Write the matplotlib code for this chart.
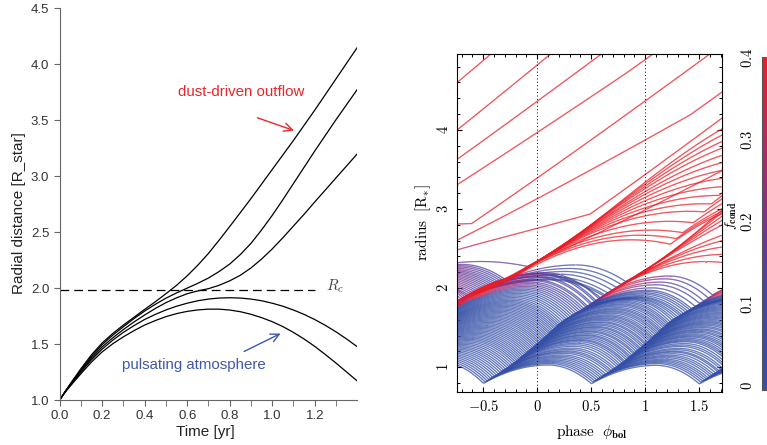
import numpy as np
import matplotlib
matplotlib.use("Agg")
import matplotlib.pyplot as plt
from matplotlib.collections import LineCollection
from matplotlib.colors import LinearSegmentedColormap, Normalize
from matplotlib.cm import ScalarMappable
from matplotlib.ticker import MultipleLocator

plt.rcParams["mathtext.fontset"] = "cm"

# ---------------- left panel: five test trajectories
time_yr = [0.0, 0.025, 0.05, 0.1, 0.15, 0.2, 0.25, 0.3, 0.35, 0.4, 0.45, 0.5, 0.55, 0.6, 0.65,
           0.7, 0.75, 0.8, 0.85, 0.9, 0.95, 1.0, 1.05, 1.1, 1.15, 1.2, 1.25, 1.3, 1.35, 1.4]
r_path_1 = [1.0, 1.075, 1.145, 1.28, 1.405, 1.51, 1.595, 1.67, 1.74, 1.81, 1.878, 1.95, 2.025, 2.11, 2.205,
            2.31, 2.428, 2.55, 2.675, 2.80, 2.93, 3.06, 3.19, 3.32, 3.455, 3.59, 3.73, 3.87, 4.01, 4.15]
r_path_2 = [1.0, 1.073, 1.14, 1.27, 1.39, 1.495, 1.58, 1.655, 1.728, 1.795, 1.855, 1.91, 1.957, 2.00, 2.043,
            2.09, 2.148, 2.215, 2.30, 2.40, 2.52, 2.65, 2.79, 2.935, 3.08, 3.225, 3.365, 3.505, 3.64, 3.775]
r_path_3 = [1.0, 1.071, 1.135, 1.26, 1.375, 1.475, 1.556, 1.63, 1.698, 1.76, 1.818, 1.87, 1.913, 1.95, 1.975,
            1.995, 2.025, 2.065, 2.115, 2.18, 2.26, 2.35, 2.45, 2.555, 2.66, 2.77, 2.877, 2.985, 3.092, 3.20]
r_path_4 = [1.0, 1.07, 1.13, 1.25, 1.36, 1.455, 1.535, 1.605, 1.665, 1.72, 1.765, 1.805, 1.838, 1.865, 1.887,
            1.902, 1.911, 1.914, 1.911, 1.902, 1.887, 1.865, 1.838, 1.804, 1.765, 1.719, 1.667, 1.609, 1.545, 1.476]
r_path_5 = [1.0, 1.068, 1.125, 1.235, 1.34, 1.43, 1.503, 1.565, 1.62, 1.67, 1.71, 1.745, 1.772, 1.792, 1.805,
            1.812, 1.812, 1.804, 1.789, 1.766, 1.736, 1.70, 1.656, 1.604, 1.545, 1.479, 1.406, 1.33, 1.25, 1.17]
r_paths = [r_path_1, r_path_2, r_path_3, r_path_4, r_path_5]
r_cond = 1.98
r_cond_end = 1.2

# ---------------- right panel
# shock front starting at phase -0.5 (and, shifted by whole cycles, the later ones)
shock_phase = np.array([-0.50, -0.35, -0.22, 0.00, 0.21, 0.46, 0.74, 1.00, 1.15, 1.50, 2.00, 2.50, 3.00])
shock_radius = np.array([0.80, 0.93, 1.05, 1.30, 1.56, 1.77, 2.02, 2.23, 2.45, 2.90, 3.65, 4.30, 4.95])
# the earlier shock front, which runs ahead (and its predecessors, shifted by whole cycles)
shock_prev_phase = np.array([-1.50, -1.30, -1.10, -0.90, -0.75, -0.50, -0.25, 0.00, 0.15, 0.50, 1.00, 1.50, 2.00])
shock_prev_radius = np.array([0.80, 1.00, 1.25, 1.55, 1.83, 1.98, 2.14, 2.35, 2.52, 2.95, 3.65, 4.30, 4.95])
# outflowing shells at the left edge (phase -0.75): radius, speed, f_cond
outer_r0 = [4.59, 3.99, 3.62, 3.30, 2.81, 2.60, 2.48, 2.32]
outer_v0 = [1.15, 1.10, 0.98, 0.88, 0.05, 0.70, 0.40, 0.15]
outer_f0 = [0.40, 0.40, 0.40, 0.38, 0.34, 0.32, 0.30, 0.15]
# pulsating shells (radius where a shock hits them)
bound_r_min, bound_r_max, bound_dr = 0.80, 1.75, 0.015
# upper shells: released by the earlier shock (-1), the later one (0) or staying (99)
upper_r_min, upper_r_max, upper_dr = 1.75, 2.12, 0.012
upper_pattern = [-1, 0, 99]
fan_push_1 = (0.5, 1.6)        # dust push of the released shells, weakest to strongest
fan_push_2 = (0.3, 1.8)
fan_release_1 = (2.2, 2.45)    # radius where released shells leave the shock
fan_release_2 = (2.0, 2.25)
dotted_phases = [0, 1]

# model constants for the shell motion
tau_a, kappa_in, kappa_out, u_cap = 0.6, 0.9, 0.75, 1.0
ride_frac, ride_cap, g_esc = 0.95, 0.85, 1.3
G0, Gamma_out, f_max = 6.0, 16.0, 0.4
r_dust, k_grow, k_grow_slow, k_evap = 1.85, 15.0, 2.5, 1.8
phi0, phi1, dt = -0.75, 1.72, 0.0025


def shock_table(k):
    if k >= 0:
        return shock_phase + k, shock_radius
    return shock_prev_phase + (k + 1), shock_prev_radius


def shock_speed(ph, rad, p):
    mid = 0.5 * (ph[1:] + ph[:-1])
    return np.interp(p, mid, np.diff(rad) / np.diff(ph))


def hit_time(k, r):
    ph, rad = shock_table(k)
    return np.interp(r, rad, ph)


def orbit(u, T):
    g_up = u / (tau_a * T)
    g_dn = u * tau_a / ((1 - tau_a) ** 2 * T)
    return g_up, g_dn


def simulate():
    rho_b = np.arange(bound_r_min, bound_r_max - 1e-9, bound_dr)
    rho_u = np.arange(upper_r_min, upper_r_max, upper_dr)
    rho = np.concatenate([rho_b, rho_u])
    n_in = len(rho)
    esc_cycle = np.full(n_in, 99)
    pat = np.array([upper_pattern[i % len(upper_pattern)] for i in range(len(rho_u))])
    pat[(rho_u > 1.95) & (pat == 99)] = -1
    esc_cycle[len(rho_b):] = pat
    push = np.ones(n_in)
    r_rel = np.full(n_in, 9.0)
    for c, p_rng, r_rng in [(-1, fan_push_1, fan_release_1), (0, fan_push_2, fan_release_2)]:
        idx = np.where(esc_cycle == c)[0]
        push[idx] = np.linspace(p_rng[0], p_rng[1], len(idx))
        r_rel[idx] = np.linspace(r_rng[0], r_rng[1], len(idx))

    # state at phase phi0 on the periodic orbits
    r = np.zeros(n_in)
    v = np.zeros(n_in)
    g_up = np.zeros(n_in)
    g_dn = np.zeros(n_in)
    last = np.zeros(n_in, dtype=int)
    for i, rh in enumerate(rho):
        k = 1
        while hit_time(k, rh) > phi0:
            k -= 1
        t_k = hit_time(k, rh)
        T = np.clip(hit_time(k + 1, rh) - t_k, 0.8, 1.45)
        ph, rad = shock_table(k)
        u = kappa_in * min(shock_speed(ph, rad, t_k), u_cap)
        gu, gd = orbit(u, T)
        tau = phi0 - t_k
        if tau < tau_a * T:
            r[i] = rh + u * tau - 0.5 * gu * tau ** 2
            v[i] = u - gu * tau
        else:
            hgt = 0.5 * u * tau_a * T
            r[i] = rh + hgt - 0.5 * gd * (tau - tau_a * T) ** 2
            v[i] = -gd * (tau - tau_a * T)
        g_up[i], g_dn[i] = gu, gd
        last[i] = k
    f = np.where((rho > 1.70) & (v > 0.3), 0.37, np.where(rho > 1.85, 0.2, 0.0))
    esc = last == esc_cycle

    ro = np.array(outer_r0)
    last_o = []
    for r0 in ro:
        k_last = -20
        for k in range(-8, 3):
            if hit_time(k, r0) <= phi0:
                k_last = max(k_last, k)
        last_o.append(k_last)
    no = len(ro)

    r = np.concatenate([r, ro])
    v = np.concatenate([v, outer_v0])
    f = np.concatenate([f, outer_f0])
    g_up = np.concatenate([g_up, np.zeros(no)])
    g_dn = np.concatenate([g_dn, np.zeros(no)])
    last = np.concatenate([last, last_o])
    esc_cycle = np.concatenate([esc_cycle, np.full(no, 99)])
    push = np.concatenate([push, np.ones(no)])
    r_rel = np.concatenate([r_rel, np.full(no, 9.0)])
    free = np.concatenate([np.zeros(n_in, bool), np.ones(no, bool)])
    esc = np.concatenate([esc, np.zeros(no, bool)])

    phases, rr, ff = [phi0], [r.copy()], [f.copy()]
    phase = phi0
    step = 0
    while phase < phi1:
        # speed of the shock each released shell rides on
        ride_v = np.zeros(len(r))
        for c in (-1, 0):
            ph, rad = shock_table(c)
            ride_v[esc_cycle == c] = min(ride_frac * shock_speed(ph, rad, phase), ride_cap)
        riding = esc & (r < r_rel)
        a_bound = -np.where(v > 0, g_up, g_dn)
        a_esc = g_esc * (push * f / f_max * (r_rel / r) ** 2 - 1.0)
        a_free = (-G0 + Gamma_out * f) / r ** 2
        a = np.where(free, a_free, np.where(esc, a_esc, a_bound))
        v = v + a * dt
        v = np.where(riding, ride_v, v)
        r = r + v * dt
        low = r < 0.79
        r[low] = 0.79
        v[low] = 0.0
        phase += dt
        fast = (v > 0.55) & (r > r_dust)
        slow_grow = (esc | free) & (v > 0.3) & ~fast
        evap = ~(esc | free) & ~fast
        df = np.where(fast, k_grow * (f_max - f), 0.0)
        df = df + np.where(slow_grow, k_grow_slow * (f_max - f), 0.0)
        df = df - np.where(evap, k_evap * f, 0.0)
        f = f + df * dt
        for k in range(-5, 3):
            ph, rad = shock_table(k)
            if phase < ph[0] or phase > ph[-1]:
                continue
            hit = (last < k) & (r <= np.interp(phase, ph, rad))
            if not hit.any():
                continue
            vs = shock_speed(ph, rad, phase)
            loose = hit & (free | (esc & (r >= r_rel)))
            v[loose] = np.maximum(v[loose], kappa_out * vs)
            bnd = np.where(hit & ~(free | esc))[0]
            u_in = kappa_in * min(vs, u_cap)
            for i in bnd:
                T = np.clip(hit_time(k + 1, r[i]) - phase, 0.8, 1.45)
                v[i] = max(v[i], u_in)
                g_up[i], g_dn[i] = orbit(u_in, T)
                if esc_cycle[i] == k:
                    esc[i] = True
            last[hit] = k
        step += 1
        if step % 2 == 0:
            phases.append(phase)
            rr.append(r.copy())
            ff.append(f.copy())
    return np.array(phases), np.array(rr), np.array(ff)


cmap = LinearSegmentedColormap.from_list(
    "fcond", [(0.0, "#3450a8"), (0.3, "#4844a3"), (0.5, "#7a3190"),
              (0.72, "#b02868"), (1.0, "#ee1d25")])
norm = Normalize(-0.005, 0.402)

fig = plt.figure(figsize=(7.67, 4.45), dpi=100)

# ---------------- left panel
ax1 = fig.add_axes([0.0778, 0.1011, 0.388, 0.8802])
for rp in r_paths:
    ax1.plot(time_yr, rp, color="black", lw=0.9)
ax1.hlines(r_cond, 0, r_cond_end, color="black", lw=0.9, linestyles=(0, (7, 4)))
ax1.text(1.255, r_cond + 0.04, r"$R_c$", fontsize=11, color="#444444", va="center")
ax1.text(0.856, 3.755, "dust-driven outflow", color="#e8262c", fontsize=10.8,
         family="Liberation Sans", ha="center", va="center")
ax1.text(0.633, 1.313, "pulsating atmosphere", color="#3f57ab", fontsize=10.8,
         family="Liberation Sans", ha="center", va="center")
ax1.annotate("", xy=(1.114, 3.40), xytext=(0.918, 3.53),
             arrowprops=dict(arrowstyle="->", color="#e8262c", lw=1.0, mutation_scale=15))
ax1.annotate("", xy=(1.051, 1.605), xytext=(0.856, 1.423),
             arrowprops=dict(arrowstyle="->", color="#3f57ab", lw=1.0, mutation_scale=15))
ax1.set_xlim(0, 1.4)
ax1.set_ylim(1.0, 4.5)
ax1.set_xticks([0.0, 0.2, 0.4, 0.6, 0.8, 1.0, 1.2])
ax1.set_xticks(np.arange(0.1, 1.35, 0.2), minor=True)
ax1.set_yticks(np.arange(1.0, 4.51, 0.5))
for s in ["top", "right"]:
    ax1.spines[s].set_visible(False)
for s in ["left", "bottom"]:
    ax1.spines[s].set_color("#666666")
ax1.tick_params(which="both", direction="out", length=4, color="#666666",
                labelcolor="#333333", labelsize=9.5)
for lab in ax1.get_xticklabels() + ax1.get_yticklabels():
    lab.set_family("Liberation Sans")
ax1.set_xlabel("Time [yr]", family="Liberation Sans", fontsize=11, color="#222222")
ax1.set_ylabel("Radial distance [R_star]", family="Liberation Sans", fontsize=11, color="#222222")
ax1.xaxis.set_label_coords(0.488, -0.064)
ax1.yaxis.set_label_coords(-0.113, 0.477)

# ---------------- right panel
ax2 = fig.add_axes([0.5954, 0.1191, 0.3459, 0.7596])
phases, rr, ff = simulate()
segs, cols = [], []
for i in range(rr.shape[1]):
    pts = np.column_stack([phases, rr[:, i]])
    segs.append(np.stack([pts[:-1], pts[1:]], axis=1))
    cols.append(0.5 * (ff[:-1, i] + ff[1:, i]))
segs = np.concatenate(segs)
cols = np.concatenate(cols)
order = np.argsort(cols, kind="stable")
lc = LineCollection(segs[order], colors=cmap(norm(cols[order])), linewidths=0.85)
ax2.add_collection(lc)
for p in dotted_phases:
    ax2.axvline(p, color="black", lw=0.7, ls=(0, (1, 2.5)))
ax2.set_xlim(-0.746, 1.71)
ax2.set_ylim(0.687, 4.96)
ax2.set_xticks([-0.5, 0, 0.5, 1, 1.5])
ax2.set_xticklabels([r"$-0.5$", r"$0$", r"$0.5$", r"$1$", r"$1.5$"])
ax2.set_yticks([1, 2, 3, 4])
ax2.set_yticklabels([r"$1$", r"$2$", r"$3$", r"$4$"], rotation=90, va="center")
ax2.xaxis.set_minor_locator(MultipleLocator(0.1))
ax2.yaxis.set_minor_locator(MultipleLocator(0.2))
ax2.tick_params(which="both", direction="in", top=True, right=True, labelsize=10.5)
ax2.tick_params(which="major", length=3.6, width=0.8)
ax2.tick_params(which="minor", length=1.9, width=0.7)
ax2.tick_params(axis="x", pad=5)
ax2.tick_params(axis="y", pad=4)
ax2.set_xlabel(r"$\mathrm{phase}\ \ \phi_{\mathbf{bol}}$", fontsize=11)
ax2.set_ylabel(r"$\mathrm{radius}\ \ [\mathrm{R}_{*}]$", fontsize=11)
ax2.xaxis.set_label_coords(0.509, -0.092)
ax2.yaxis.set_label_coords(-0.089, 0.5)

# colour bar, cut by the right edge of the figure
cax = fig.add_axes([762 / 767, 0.1236, 0.03, 0.749])
cb = fig.colorbar(ScalarMappable(norm=norm, cmap=cmap), cax=cax)
cb.outline.set_edgecolor("#555555")
cax.yaxis.set_ticks_position("left")
cax.set_yticks([0, 0.1, 0.2, 0.3, 0.4])
cax.set_yticklabels([r"$0$", r"$0.1$", r"$0.2$", r"$0.3$", r"$0.4$"], rotation=90, va="center")
cax.tick_params(length=0, pad=5, labelsize=10.5)
fig.text(731 / 767, 1 - 216 / 445, r"$f_{\mathbf{cond}}$", rotation=90,
         fontsize=10, ha="center", va="center")

fig.savefig("out.png", dpi=100)
